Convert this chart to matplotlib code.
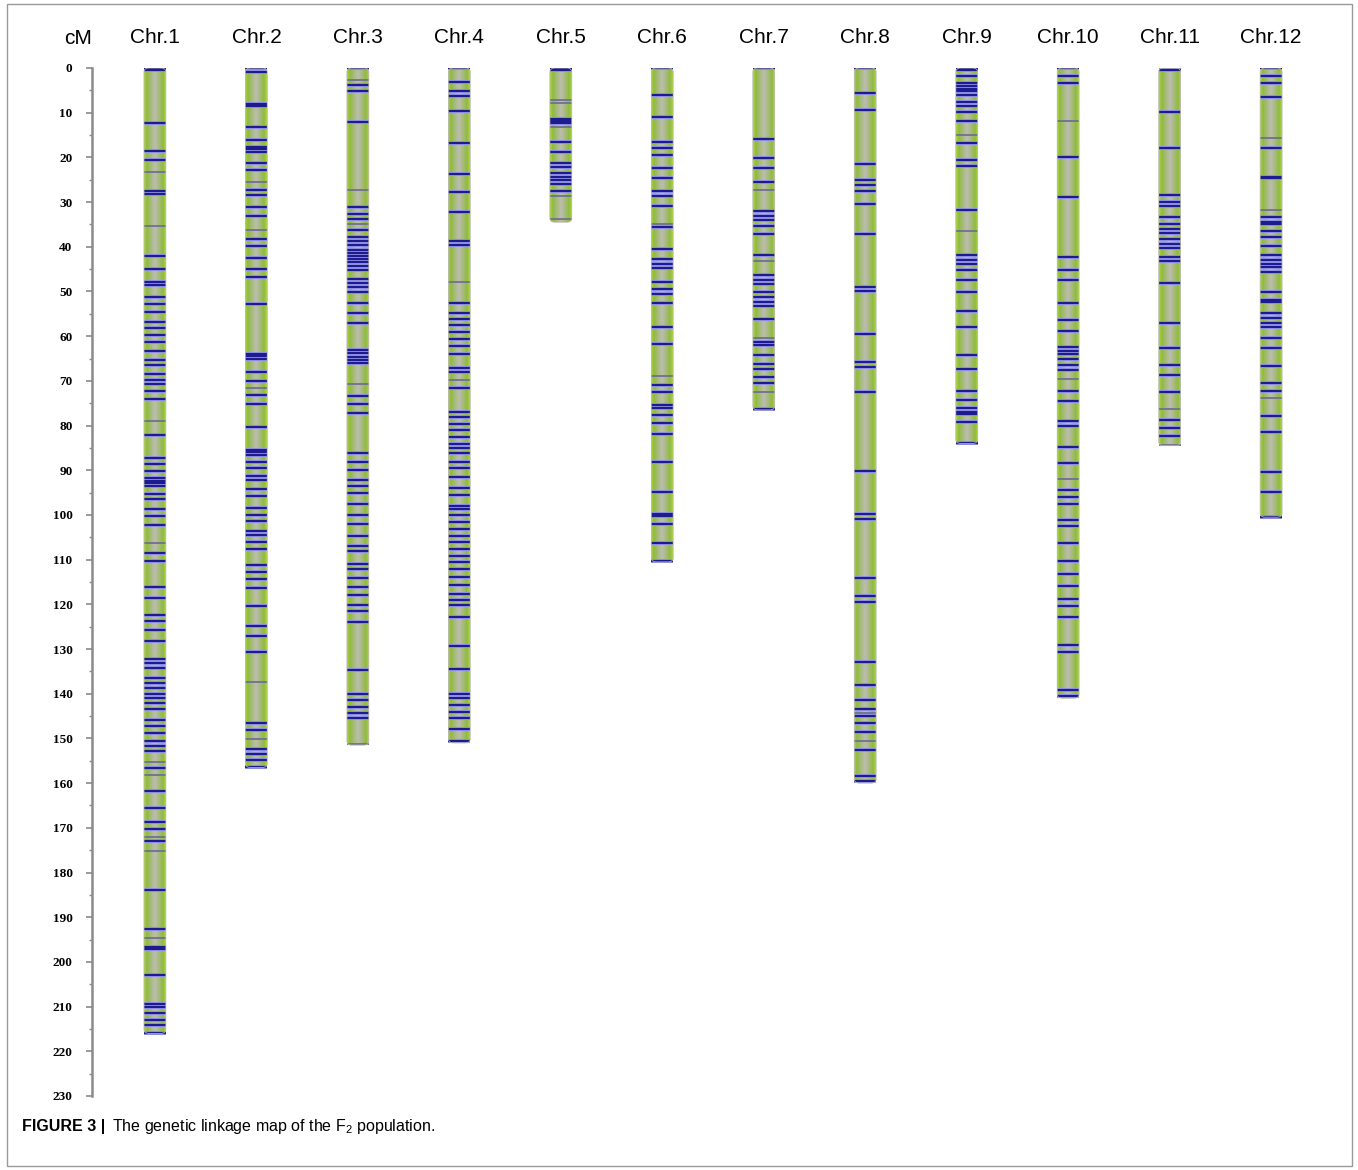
import numpy as np
import matplotlib
matplotlib.use("Agg")
import matplotlib.pyplot as plt
from matplotlib.patches import FancyBboxPatch, Rectangle
from matplotlib.colors import LinearSegmentedColormap

plt.rcParams['mathtext.fontset'] = 'custom'
plt.rcParams['mathtext.rm'] = 'Liberation Sans'

chrom_names = ["Chr.1", "Chr.2", "Chr.3", "Chr.4", "Chr.5", "Chr.6",
               "Chr.7", "Chr.8", "Chr.9", "Chr.10", "Chr.11", "Chr.12"]
chrom_lengths = [216, 156.5, 151.5, 151, 34.5, 110.5, 76.5, 160, 84, 141, 84.5, 100.5]

# marker positions (cM)
chr1_markers = [0, 0.5, 12.2, 18.6, 20.6, 27.6, 28.2, 42.0, 44.9, 47.8, 48.5, 51.2, 52.7, 54.6,
                56.9, 58.2, 59.7, 61.3, 63.4, 65.4, 66.5, 68.4, 69.7, 70.8, 72.3, 74.1, 82.2,
                87.2, 88.6, 90.2, 91.7, 92.3, 92.9, 93.5, 95.4, 96.5, 98.7, 100.2, 102.3,
                108.4, 110.3, 116.2, 118.6, 122.3, 123.7, 125.7, 128.1, 132.2, 133.2, 134.3,
                136.5, 137.6, 138.8, 140.0, 141.0, 142.1, 143.5, 145.9, 147.2, 148.7, 150.5,
                151.7, 152.9, 156.7, 161.7, 165.6, 168.8, 170.3, 172.9, 183.9, 192.7, 196.6,
                197.2, 202.9, 209.4, 210.0, 211.5, 213.0, 214.1, 215.8]
chr1_faint = [23.2, 35.3, 78.9, 106.2, 155.2, 158.2, 172.0, 175.1, 194.7]

chr2_markers = [0, 0.8, 8.0, 8.5, 13.1, 16.2, 17.7, 18.2, 18.7, 21.3, 22.9, 27.3, 28.5, 31.1,
                33.1, 38.3, 39.8, 42.4, 44.9, 46.7, 52.9, 63.9, 64.5, 65.0, 68.0, 70.1, 73.2,
                75.2, 80.4, 85.5, 86.0, 86.5, 88.1, 89.6, 91.2, 92.2, 94.3, 95.8, 98.4, 99.9,
                101.4, 103.5, 104.5, 106.0, 107.6, 111.2, 112.7, 114.3, 116.3, 120.4, 124.9,
                127.1, 130.7, 146.6, 148.2, 152.3, 153.5, 154.8, 156.3]
chr2_faint = [25.4, 36.2, 71.6, 137.4, 150.2]

chr3_markers = [0, 3.7, 5.2, 12.0, 31.2, 32.7, 33.7, 36.2, 37.7, 38.7, 39.7, 40.7, 41.4, 42.1,
                42.8, 43.5, 44.2, 45.1, 47.1, 48.1, 49.1, 50.1, 52.6, 54.9, 57.1, 63.1, 63.8,
                64.6, 65.3, 66.1, 73.3, 75.1, 77.1, 86.1, 88.1, 89.9, 92.1, 93.6, 95.1, 97.6,
                99.9, 102.1, 104.6, 106.9, 108.1, 110.9, 112.1, 114.1, 116.1, 117.9, 120.1,
                121.6, 123.9, 134.8, 140.0, 141.5, 143.0, 144.3, 145.5]
chr3_faint = [2.7, 27.4, 35.0, 70.6, 151.2]

chr4_markers = [0, 3.2, 5.2, 6.2, 9.7, 16.7, 23.7, 27.7, 32.2, 38.7, 39.7, 52.6, 54.9, 56.1,
                57.6, 59.1, 60.6, 62.1, 64.1, 67.1, 68.1, 71.6, 77.0, 78.0, 79.6, 81.1, 82.6,
                84.1, 85.1, 86.1, 88.1, 89.6, 91.6, 93.9, 95.6, 98.1, 98.6, 100.1, 101.6, 103.1,
                104.6, 106.1, 107.6, 109.1, 110.6, 112.1, 113.9, 115.6, 117.6, 119.1, 120.1,
                122.9, 129.3, 134.5, 140.0, 141.0, 142.5, 144.0, 145.5, 148.0, 150.5]
chr4_faint = [47.9, 69.9]

chr5_markers = [0, 0.4, 11.3, 11.9, 12.4, 16.5, 18.7, 21.3, 22.1, 23.6, 24.3, 25.1, 26.0, 27.5]
chr5_faint = [7.2, 7.8, 13.1, 28.6, 33.8]

chr6_markers = [0, 6.0, 10.9, 16.5, 18.0, 19.5, 22.4, 24.5, 27.5, 28.6, 30.8, 35.6, 40.5, 42.8,
                43.8, 44.8, 47.8, 49.5, 50.6, 52.5, 58.0, 61.7, 70.9, 72.6, 75.4, 76.1, 77.6,
                79.5, 81.9, 88.1, 94.8, 99.8, 100.3, 102.0, 106.2, 110.3]
chr6_faint = [34.9, 69.0]

chr7_markers = [0, 15.8, 20.1, 22.4, 25.4, 31.9, 33.1, 34.0, 35.3, 37.2, 41.8, 46.4, 47.4,
                48.3, 50.2, 51.3, 52.4, 53.2, 56.2, 61.2, 61.9, 64.2, 66.2, 67.4, 69.2, 70.4,
                76.4]
chr7_faint = [27.4, 43.2, 60.3, 72.4]

chr8_markers = [0, 5.5, 9.5, 21.5, 25.0, 26.2, 27.5, 30.5, 37.2, 49.0, 49.8, 59.5, 65.8, 66.8,
                72.5, 90.2, 99.8, 100.8, 114.0, 118.2, 119.5, 133.0, 138.0, 141.5, 143.5,
                145.0, 146.5, 148.5, 152.5, 158.5, 159.5]
chr8_faint = [144.2, 150.5]

chr9_markers = [0, 0.5, 1.9, 3.3, 4.0, 4.6, 5.2, 6.1, 7.5, 8.6, 9.8, 11.9, 16.8, 20.5, 21.9,
                31.8, 41.9, 42.9, 43.8, 45.2, 47.4, 50.1, 54.3, 58.0, 64.2, 67.3, 72.2, 74.3,
                76.1, 77.0, 77.5, 79.2, 84.0]
chr9_faint = [14.9, 36.4]

chr10_markers = [0, 1.9, 3.3, 19.9, 28.8, 42.2, 45.3, 47.4, 52.5, 56.4, 58.9, 62.5, 63.3,
                 64.1, 65.0, 66.4, 67.6, 72.2, 74.4, 78.9, 80.0, 84.9, 88.4, 94.5, 96.0, 97.5,
                 101.1, 102.5, 106.3, 110.2, 113.2, 116.0, 118.8, 120.4, 122.9, 129.0, 130.6,
                 139.2, 140.6]
chr10_faint = [11.9, 69.6, 92.0]

chr11_markers = [0.4, 9.8, 17.9, 28.4, 29.9, 30.8, 33.3, 34.9, 36.0, 37.0, 38.3, 39.4, 40.3,
                 42.2, 43.2, 48.0, 57.1, 62.7, 66.4, 68.6, 72.6, 78.7, 80.6, 82.3]
chr11_faint = [76.4, 84.3]

chr12_markers = [0, 1.9, 3.3, 6.6, 17.8, 24.3, 24.7, 33.3, 34.4, 35.0, 36.4, 37.8, 39.8, 41.9,
                 43.0, 43.8, 44.6, 45.6, 50.2, 51.9, 52.3, 54.9, 56.0, 57.1, 57.9, 60.5, 62.7,
                 66.7, 70.4, 72.3, 77.9, 81.5, 90.5, 94.8, 100.4]
chr12_faint = [15.7, 31.8, 73.9]

markers_all = [chr1_markers, chr2_markers, chr3_markers, chr4_markers, chr5_markers, chr6_markers,
               chr7_markers, chr8_markers, chr9_markers, chr10_markers, chr11_markers, chr12_markers]
faint_all = [chr1_faint, chr2_faint, chr3_faint, chr4_faint, chr5_faint, chr6_faint,
             chr7_faint, chr8_faint, chr9_faint, chr10_faint, chr11_faint, chr12_faint]

W, H = 1358, 1170
fig = plt.figure(figsize=(W / 100, H / 100), dpi=100)
ax = fig.add_axes([92 / W, 74 / H, (1332 - 92) / W, (1102 - 74) / H])

bar_cmap = LinearSegmentedColormap.from_list(
    "chrom", [(0.0, "#acd93a"), (0.12, "#90ba40"), (0.5, "#bdbdb2"),
              (0.88, "#90ba40"), (1.0, "#acd93a")])
grad = np.linspace(0, 1, 64).reshape(1, -1)
w = 0.215

for i, (name, length) in enumerate(zip(chrom_names, chrom_lengths)):
    x = i + 1
    box = FancyBboxPatch((x - w / 2, 0), w, length,
                         boxstyle="round,pad=0,rounding_size=0.05",
                         mutation_aspect=18, facecolor="none",
                         edgecolor="#b5b5a5", linewidth=0.6, zorder=4)
    ax.add_patch(box)
    im = ax.imshow(grad, cmap=bar_cmap, extent=(x - w / 2, x + w / 2, length, 0),
                   aspect="auto", interpolation="bilinear", zorder=2)
    im.set_clip_path(box)
    ax.hlines(faint_all[i], x - w / 2, x + w / 2, colors="#707090", linewidth=1.3, zorder=3)
    ax.hlines(markers_all[i], x - w / 2, x + w / 2, colors="#9b9bea", linewidth=2.9, zorder=3)
    ax.hlines(markers_all[i], x - w / 2, x + w / 2, colors="#1c1c90", linewidth=1.6, zorder=3)
    ax.text(x, -6.9, name, ha="center", va="center", fontsize=15,
            family="Liberation Sans", clip_on=False)

ax.set_xlim(0.38, 12.6)
ax.set_ylim(230, 0)

ax.set_yticks(np.arange(0, 231, 10))
ax.set_yticks(np.arange(5, 231, 10), minor=True)
ax.tick_params(axis="y", which="major", length=4, width=1.2, color="#8a8a8a", pad=10,
               labelsize=9.5)
ax.tick_params(axis="y", which="minor", length=2.5, width=1.0, color="#8a8a8a")
for lab in ax.get_yticklabels():
    lab.set_family("Liberation Serif")
    lab.set_fontweight("bold")
ax.set_xticks([])
for s in ["top", "right", "bottom"]:
    ax.spines[s].set_visible(False)
ax.spines["left"].set_color("#8a8a8a")
ax.spines["left"].set_linewidth(1.8)
ax.patch.set_visible(False)

fig.text(78 / W, 1 - 38 / H, "cM", ha="center", va="center", fontsize=15,
         family="Liberation Sans")

fig.patches.append(Rectangle((7 / W, 4 / H), (1352 - 7) / W, (1166 - 4) / H,
                             transform=fig.transFigure, fill=False,
                             edgecolor="#9a9a9a", linewidth=1.0))
fig.text(22 / W, 1 - 1126 / H, "FIGURE 3 |", ha="left", va="center", fontsize=11.5,
         fontweight="bold", family="Liberation Sans")
fig.text(112 / W, 1 - 1126 / H, r"The genetic linkage map of the F$_{\mathregular{2}}$ population.",
         ha="left", va="center", fontsize=11.5, family="Liberation Sans")

fig.savefig("out.png", dpi=100)
